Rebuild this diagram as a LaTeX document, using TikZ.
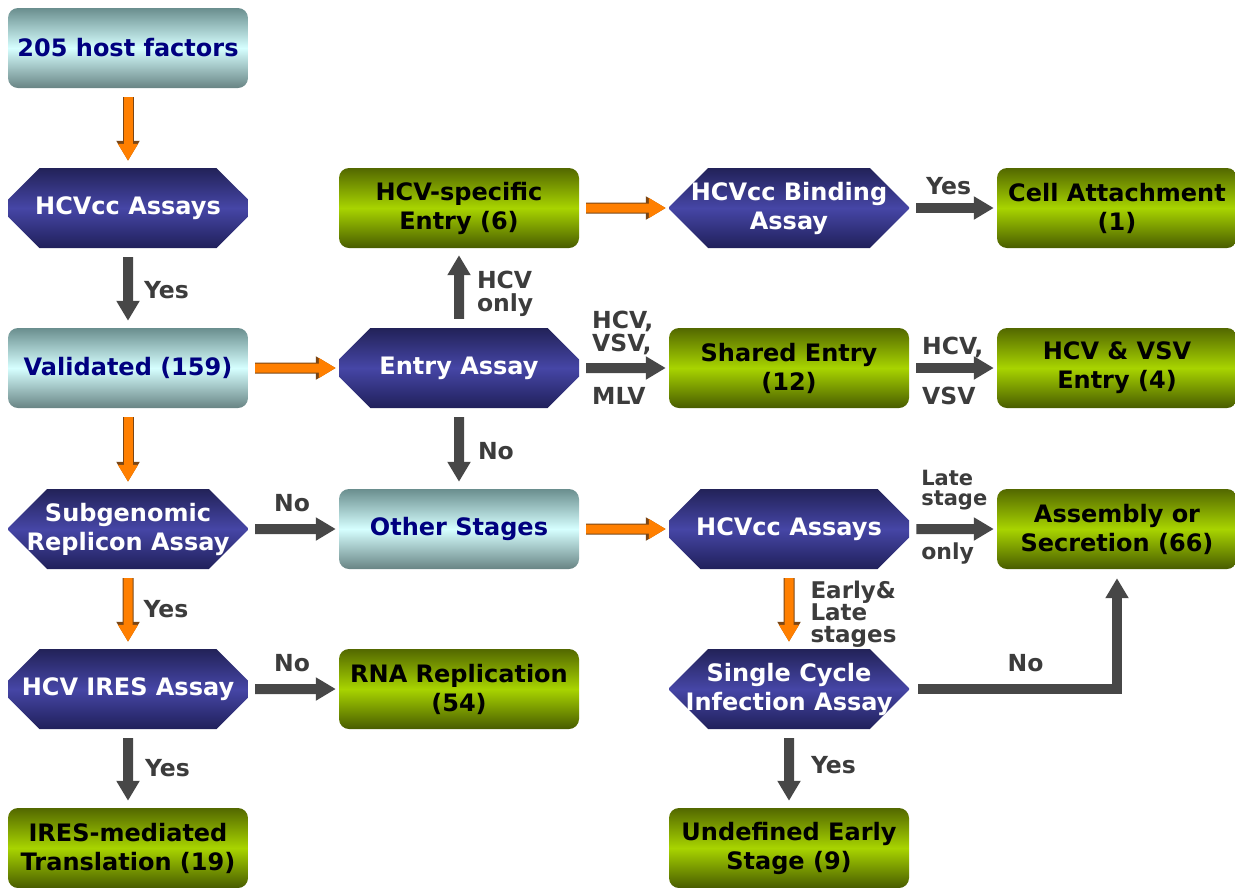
\documentclass[tikz,border=0pt]{standalone}
\usepackage{fontspec}
\setmainfont{DejaVu Sans}
\usetikzlibrary{arrows.meta, shapes.misc}

\definecolor{navytxt}{HTML}{00007F}
\definecolor{cyantop}{HTML}{6A8E8E}
\definecolor{cyanmid}{HTML}{D6FFFF}
\definecolor{cyanbot}{HTML}{688484}
\definecolor{greentop}{HTML}{536800}
\definecolor{greenmid}{HTML}{A8D400}
\definecolor{greenbot}{HTML}{485C00}
\definecolor{bluetop}{HTML}{222258}
\definecolor{bluemid}{HTML}{4646A6}
\definecolor{bluebot}{HTML}{20205A}
\definecolor{arrgray}{HTML}{474747}
\definecolor{lblgray}{HTML}{3C3C3C}
\definecolor{orng}{HTML}{FF7F00}
\definecolor{orngline}{HTML}{7A4616}

\tikzset{
  box/.style={minimum width=240pt, minimum height=80pt, inner sep=0pt, align=center,
    font=\fontsize{24}{29}\selectfont\bfseries},
  cyanbox/.style={box, rounded corners=10pt, top color=cyantop, bottom color=cyanbot,
    middle color=cyanmid, text=navytxt},
  greenbox/.style={box, rounded corners=10pt, top color=greentop, bottom color=greenbot,
    middle color=greenmid, text=black},
  octa/.style={box, chamfered rectangle, chamfered rectangle xsep=23pt,
    chamfered rectangle ysep=20pt, top color=bluetop, bottom color=bluebot,
    middle color=bluemid, text=white},
  octatwo/.style={octa, inner ysep=-7pt, inner xsep=-12pt},
  gbar/.style={draw=arrgray, line width=10pt, -{Triangle[length=20pt,width=22pt]},
    shorten <=9pt, shorten >=7pt},
  obar/.style={draw=orng, line width=9pt, -{Triangle[length=17pt,width=19pt]},
    preaction={draw=orngline, line width=11pt, -{Triangle[length=20pt,width=22pt]}},
    shorten <=9pt, shorten >=7pt},
  hz/.style={shorten <=7pt, shorten >=3pt},
  lbl/.style={text=lblgray, font=\fontsize{23.5}{23}\selectfont\bfseries, align=left,
    inner sep=0pt}
}

\begin{document}
\begin{tikzpicture}[x=1pt, y=-1pt]
\useasboundingbox (0,0) rectangle (1235,887);

% first column
\node[cyanbox] (hosts) at (128,48) {205 host factors};
\node[octa] (hcvcc) at (128,208) {HCVcc Assays};
\node[cyanbox] (valid) at (128,368) {Validated (159)};
\node[octatwo] (subgen) at (128,529) {Subgenomic\\Replicon Assay};
\node[octa] (ires) at (128,689) {HCV IRES Assay};
\node[greenbox] (iresmed) at (128,848) {IRES-mediated\\Translation (19)};

% second column
\node[greenbox] (hcvspec) at (459,208) {HCV-specific\\Entry (6)};
\node[octa] (entry) at (459,368) {Entry Assay};
\node[cyanbox] (other) at (459,529) {Other Stages};
\node[greenbox] (rnarep) at (459,689) {RNA Replication\\(54)};

% third column
\node[octatwo] (binding) at (789,208) {HCVcc Binding\\Assay};
\node[greenbox] (shared) at (789,368) {Shared Entry\\(12)};
\node[octa] (hcvcc2) at (789,529) {HCVcc Assays};
\node[octatwo] (single) at (789,689) {Single Cycle\\Infection Assay};
\node[greenbox] (undef) at (789,848) {Undefined Early\\Stage (9)};

% fourth column
\node[greenbox] (attach) at (1117,208) {Cell Attachment\\(1)};
\node[greenbox] (hcvvsv) at (1117,368) {HCV \& VSV\\Entry (4)};
\node[greenbox] (assembly) at (1117,529) {Assembly or\\Secretion (66)};

\draw[obar] (hosts) -- (hcvcc);
\draw[gbar] (hcvcc) -- node[lbl, right=11pt, yshift=-2pt] {Yes} (valid);
\draw[obar] (valid) -- (subgen);
\draw[obar] (subgen) -- node[lbl, right=11pt] {Yes} (ires);
\draw[gbar] (ires) -- node[lbl, right=12pt] {Yes} (iresmed);
\draw[obar, hz] (valid) -- (entry);
\draw[gbar] (entry) -- node[lbl, right=13pt, yshift=-6pt] {HCV\\only} (hcvspec);
\draw[gbar] (entry) -- node[lbl, right=14pt, yshift=-3pt] {No} (other);
\draw[gbar, hz] (subgen) -- node[lbl, pos=0, anchor=south west, xshift=21pt, yshift=12pt] {No} (other);
\draw[gbar, hz] (ires) -- node[lbl, pos=0, anchor=south west, xshift=21pt, yshift=12pt] {No} (rnarep);
\draw[obar, hz] (hcvspec) -- (binding);
\draw[gbar, hz] (binding) -- node[lbl, pos=0, anchor=south west, xshift=12pt, yshift=8pt] {Yes} (attach);
\draw[gbar, hz] (entry) -- node[lbl, pos=0, anchor=south west, xshift=8pt, yshift=8pt] {HCV,\\VSV,}
  node[lbl, pos=0, anchor=north west, xshift=8pt, yshift=-14pt] {MLV} (shared);
\draw[gbar, hz] (shared) -- node[lbl, pos=0, anchor=south west, xshift=8pt, yshift=5pt] {HCV,}
  node[lbl, pos=0, anchor=north west, xshift=8pt, yshift=-14pt] {VSV} (hcvvsv);
\draw[obar, hz] (other) -- (hcvcc2);
\draw[gbar, hz] (hcvcc2) -- node[lbl, pos=0, anchor=south west, xshift=7pt, yshift=14pt,
  font=\fontsize{21}{20}\selectfont\bfseries] {Late\\stage}
  node[lbl, pos=0, anchor=north west, xshift=7pt, yshift=-9pt, font=\fontsize{22}{17}\selectfont\bfseries] {only} (assembly);
\draw[obar] (hcvcc2) -- node[lbl, right=17pt, yshift=-5pt, font=\fontsize{23}{22}\selectfont\bfseries] {Early\&\\Late\\stages} (single);
\draw[gbar] (single) -- node[lbl, right=17pt, yshift=3pt] {Yes} (undef);
\draw[gbar, shorten >=9pt] (single) -| node[lbl, pos=0.28, above=12pt] {No} (assembly);
\end{tikzpicture}
\end{document}
